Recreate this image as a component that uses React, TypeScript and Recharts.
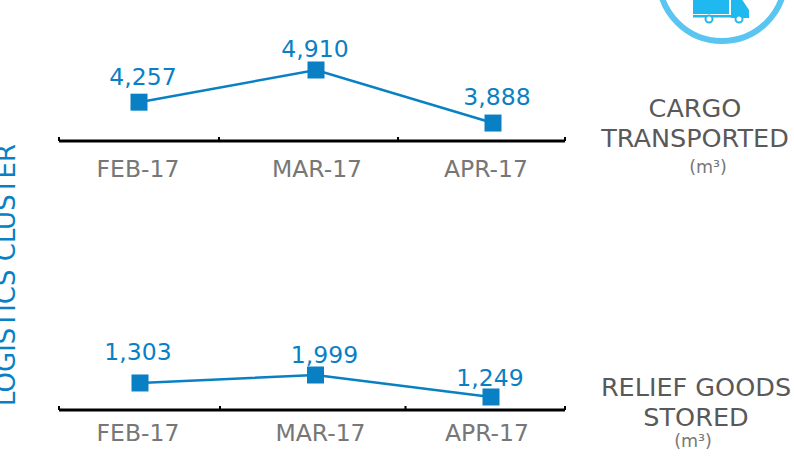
import React from 'react';
import { LineChart, Line, XAxis, YAxis, LabelList } from 'recharts';

const months = ['FEB-17', 'MAR-17', 'APR-17'];

// numbers printed on the chart
const cargoValues = [4257, 4910, 3888];
const storedValues = [1303, 1999, 1249];

// heights of the markers (the original is not drawn to scale)
const cargoLevels = [4290, 4910, 3888];
const storedLevels = [1727, 1999, 1249];

const BLUE = '#0a80c4';
const FONT = '"DejaVu Sans", Verdana, sans-serif';

const cargoData = months.map((month, i) => ({ month, level: cargoLevels[i], value: cargoValues[i] }));
const storedData = months.map((month, i) => ({ month, level: storedLevels[i], value: storedValues[i] }));

const SquareDot = (props: any) => (
  <rect x={props.cx - 8.5} y={props.cy - 8.5} width={17} height={17} fill={BLUE} />
);

const makeTick = (labelShift: number[], tickShift: number[], leftEnd: number, drop: number) => (props: any) => {
  const { x, y, index, payload } = props;
  return (
    <g>
      <line x1={x + tickShift[index]} x2={x + tickShift[index]} y1={y} y2={y - 4} stroke="#000" strokeWidth={2} />
      {index === 0 && <line x1={x - leftEnd} x2={x - leftEnd} y1={y} y2={y - 4} stroke="#000" strokeWidth={2} />}
      <text x={x + labelShift[index]} y={y + drop} textAnchor="middle" fontSize={23.5} fontFamily={FONT} fill="#777777">
        {payload.value}
      </text>
    </g>
  );
};

const makeLabel = (dx: number[], dy: number[]) => (props: any) => {
  const { x, y, index, value } = props;
  return (
    <text x={x + dx[index]} y={y + dy[index]} textAnchor="middle" fontSize={23.5} fontFamily={FONT} fill={BLUE}>
      {Number(value).toLocaleString('en-US')}
    </text>
  );
};

const Panel = ({ data, top, height, marginTop, domain, padLeft, padRight, tick, label }: any) => (
  <div style={{ position: 'absolute', left: 0, top }}>
    <LineChart width={600} height={height} data={data} margin={{ top: marginTop, right: 35, bottom: 0, left: 59 }}>
      <XAxis
        dataKey="month"
        scale="point"
        padding={{ left: padLeft, right: padRight }}
        tickLine={false}
        tickSize={0}
        tickMargin={0}
        axisLine={{ stroke: '#000', strokeWidth: 3 }}
        tick={tick}
        interval={0}
        height={50}
      />
      <YAxis hide domain={domain} width={0} />
      <Line
        dataKey="level"
        stroke={BLUE}
        strokeWidth={2.5}
        dot={<SquareDot />}
        activeDot={false}
        isAnimationActive={false}
      >
        <LabelList dataKey="value" content={label} />
      </Line>
    </LineChart>
  </div>
);

const Caption = ({ lines, center, top, unitCenter, unitTop }: any) => (
  <>
    {lines.map((line: string, i: number) => (
      <div
        key={line}
        style={{
          position: 'absolute',
          left: center - 120,
          width: 240,
          top: top + i * 30,
          textAlign: 'center',
          fontSize: 25.5,
          lineHeight: '30px',
          color: '#595959',
          fontFamily: FONT,
        }}
      >
        {line}
      </div>
    ))}
    <div
      style={{
        position: 'absolute',
        left: unitCenter - 60,
        width: 120,
        top: unitTop,
        textAlign: 'center',
        fontSize: 17.5,
        lineHeight: '20px',
        color: '#777777',
        fontFamily: FONT,
      }}
    >
      (m³)
    </div>
  </>
);

const TruckBadge = () => (
  <svg width={794} height={60} style={{ position: 'absolute', left: 0, top: 0 }}>
    <circle cx={722} cy={-22} r={63} fill="#fff" stroke="#5bc5f2" strokeWidth={6} />
    <rect x={693} y={-2} width={36} height={16} fill="#1fb9ef" />
    <path d="M731 -2 H741 L749 10 V18 H731 Z" fill="#1fb9ef" />
    <rect x={693} y={15} width={40} height={2.5} fill="#1fb9ef" />
    <circle cx={709} cy={19} r={3.5} fill="#fff" stroke="#1fb9ef" strokeWidth={2} />
    <circle cx={739} cy={19} r={3.5} fill="#fff" stroke="#1fb9ef" strokeWidth={2} />
  </svg>
);

export default function App() {
  return (
    <div style={{ position: 'fixed', left: 0, top: 0, width: 794, height: 473, overflow: 'hidden', background: '#fff' }}>
      <TruckBadge />
      <Panel
        data={cargoData}
        top={0}
        height={191}
        marginTop={21}
        domain={[3542, 5854]}
        padLeft={80}
        padRight={72}
        tick={makeTick([-1, 1, -7], [80, 82, 72], 80, 36)}
        label={makeLabel([4, -1, 4], [-17, -13, -18])}
      />
      <Panel
        data={storedData}
        top={300}
        height={160}
        marginTop={20}
        domain={[805, 3876]}
        padLeft={81}
        padRight={74}
        tick={makeTick([-2, 5, -4], [80, 90, 74], 81, 31)}
        label={makeLabel([-2, 9, -1], [-23, -12, -11])}
      />
      <Caption lines={['CARGO', 'TRANSPORTED']} center={695} top={93} unitCenter={708} unitTop={157} />
      <Caption lines={['RELIEF GOODS', 'STORED']} center={696} top={372} unitCenter={693} unitTop={431} />
      <div
        style={{
          position: 'absolute',
          left: 6,
          top: 275,
          transform: 'translate(-50%, -50%) rotate(-90deg)',
          whiteSpace: 'nowrap',
          fontSize: 26,
          color: BLUE,
          fontFamily: FONT,
        }}
      >
        LOGISTICS CLUSTER
      </div>
    </div>
  );
}
